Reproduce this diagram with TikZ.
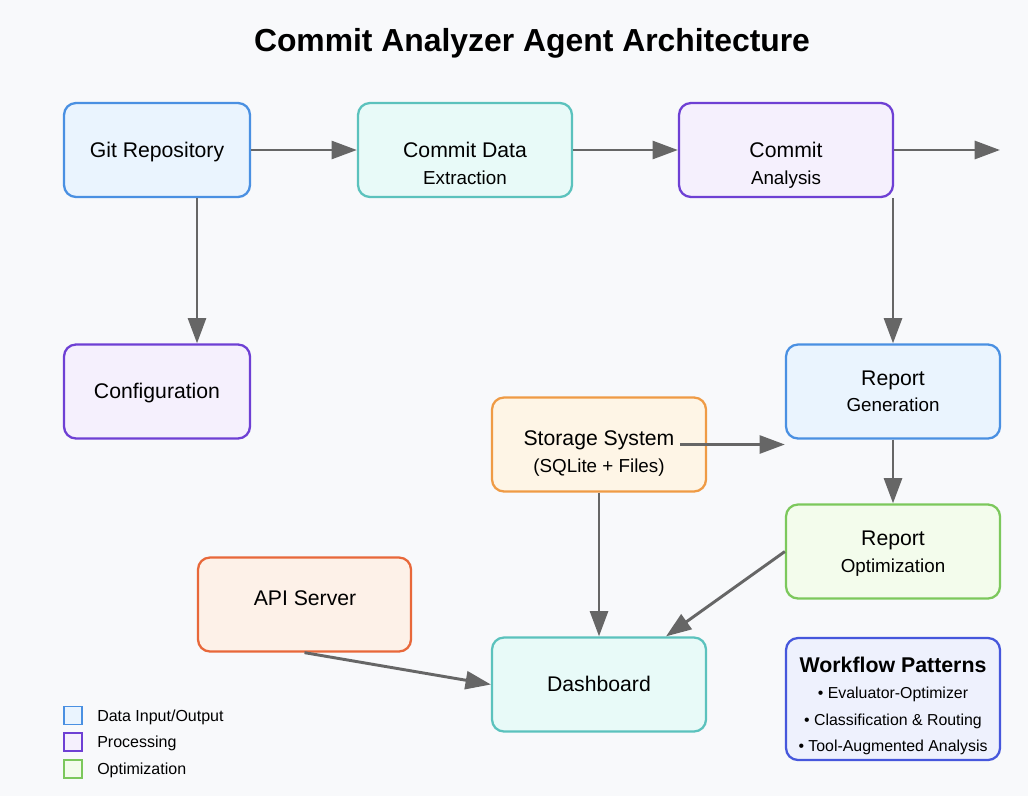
\documentclass[tikz,border=0pt]{standalone}
\usepackage{fontspec}
\setmainfont{Liberation Sans}
\usetikzlibrary{arrows.meta}
\definecolor{bgc}{HTML}{F8F9FB}
\definecolor{arrc}{HTML}{666666}
\definecolor{bluec}{HTML}{4A90E2}
\definecolor{bluef}{HTML}{EAF4FE}
\definecolor{tealc}{HTML}{5BC2BD}
\definecolor{tealf}{HTML}{E8FAF8}
\definecolor{purc}{HTML}{6E40D4}
\definecolor{purf}{HTML}{F5F0FD}
\definecolor{orc}{HTML}{EF9B45}
\definecolor{orf}{HTML}{FEF5E6}
\definecolor{grc}{HTML}{7CC85C}
\definecolor{grf}{HTML}{F3FCEC}
\definecolor{redc}{HTML}{E8683A}
\definecolor{redf}{HTML}{FDF1E8}
\definecolor{wfc}{HTML}{4657DC}
\definecolor{wff}{HTML}{EEF1FD}

\begin{document}
\begin{tikzpicture}[x=0.75pt,y=-0.75pt,
  box/.style n args={2}{draw=#1,fill=#2,line width=1.7pt,rounded corners=9pt,
    minimum width=160.5pt,minimum height=70.5pt,inner sep=0pt},
  arr/.style={draw=arrc,line width=2.2pt,-{Triangle[length=19pt,width=13.5pt]}},
  main/.style={font=\fontsize{15.9}{19}\selectfont,text height=11.4pt,text depth=0pt,inner sep=0pt},
  sub/.style={font=\fontsize{14.1}{17}\selectfont,text height=10.1pt,text depth=0pt,inner sep=0pt},
  leg/.style={font=\fontsize{12}{14}\selectfont,text height=8.6pt,text depth=0pt,inner sep=0pt,anchor=west},
  legbox/.style n args={2}{draw=#1,fill=#2,line width=1.2pt,minimum size=13.5pt,inner sep=0pt}]
\fill[bgc] (0,0) rectangle (1028,796);
\useasboundingbox (0,0) rectangle (1028,796);

\node[font=\bfseries\fontsize{23.9}{28}\selectfont,text height=17.1pt,text depth=0pt,inner sep=0pt] (title) at (532,40) {Commit Analyzer Agent Architecture};

% boxes
\node[box={bluec}{bluef},minimum width=139.5pt] (git) at (157,150) {};
\node[box={tealc}{tealf}] (extract) at (465,150) {};
\node[box={purc}{purf}] (analysis) at (786,150) {};
\node[box={purc}{purf},minimum width=139.5pt] (config) at (157,391.5) {};
\node[box={bluec}{bluef}] (gen) at (893,391.5) {};
\node[box={orc}{orf}] (store) at (599,444.5) {};
\node[box={grc}{grf}] (opt) at (893,551.5) {};
\node[box={redc}{redf},minimum width=159.75pt] (api) at (304.5,604.5) {};
\node[box={tealc}{tealf}] (dash) at (599,684.5) {};
\node[box={wfc}{wff},minimum height=91.5pt] (wf) at (893,699) {};

% arrows
\coordinate (out) at (1000,150);
\draw[arr] (git.east) -- (extract.west);
\draw[arr] (extract.east) -- (analysis.west);
\draw[arr] (analysis.east) -- (out);
\draw[arr] ([xshift=30pt]git.south) -- ([xshift=30pt]config.north);
\draw[arr] (analysis.south -| gen.north) -- (gen.north);
\draw[arr] ([xshift=60.75pt]store.center) -- (gen.west |- store.center);
\draw[arr] (gen.south) -- (opt.north);
\draw[arr] (store.south) -- (dash.north);
\draw[arr] (opt.west) -- ([xshift=50.25pt]dash.north);
\draw[arr] (api.south) -- (dash.west);

% texts
\node[main] (gitT) at (157,150) {Git Repository};
\node[main] (extractT) at (465,150) {Commit Data};
\node[sub] (extractS) at (465,178) {Extraction};
\node[main] (analysisT) at (786,150) {Commit};
\node[sub] (analysisS) at (786,178) {Analysis};
\node[main] (configT) at (157,391) {Configuration};
\node[main] (genT) at (893,378) {Report};
\node[sub] (genS) at (893,405) {Generation};
\node[main] (storeT) at (599,438) {Storage System};
\node[sub] (storeS) at (599,466) {(SQLite + Files)};
\node[main] (optT) at (893,538) {Report};
\node[sub] (optS) at (893,566) {Optimization};
\node[main] (apiT) at (305,598) {API Server};
\node[main] (dashT) at (599,684) {Dashboard};
\node[font=\bfseries\fontsize{16}{19}\selectfont,text height=11.5pt,text depth=0pt,inner sep=0pt] (wfT) at (893,665) {Workflow Patterns};
\node[sub,font=\fontsize{11.9}{14}\selectfont,text height=8.5pt] (wf1) at (893,693) {• Evaluator-Optimizer};
\node[sub,font=\fontsize{11.9}{14}\selectfont,text height=8.5pt] (wf2) at (893,720) {• Classification \& Routing};
\node[sub,font=\fontsize{11.9}{14}\selectfont,text height=8.5pt] (wf3) at (893,746) {• Tool-Augmented Analysis};

% legend
\node[legbox={bluec}{bluef}] (lg1) at (73,715.5) {};
\node[legbox={purc}{purf}] (lg2) at (73,742) {};
\node[legbox={grc}{grf}] (lg3) at (73,769) {};
\node[leg] (lg1T) at (97,716) {Data Input/Output};
\node[leg] (lg2T) at (97,742) {Processing};
\node[leg] (lg3T) at (97,769) {Optimization};
\end{tikzpicture}
\end{document}
